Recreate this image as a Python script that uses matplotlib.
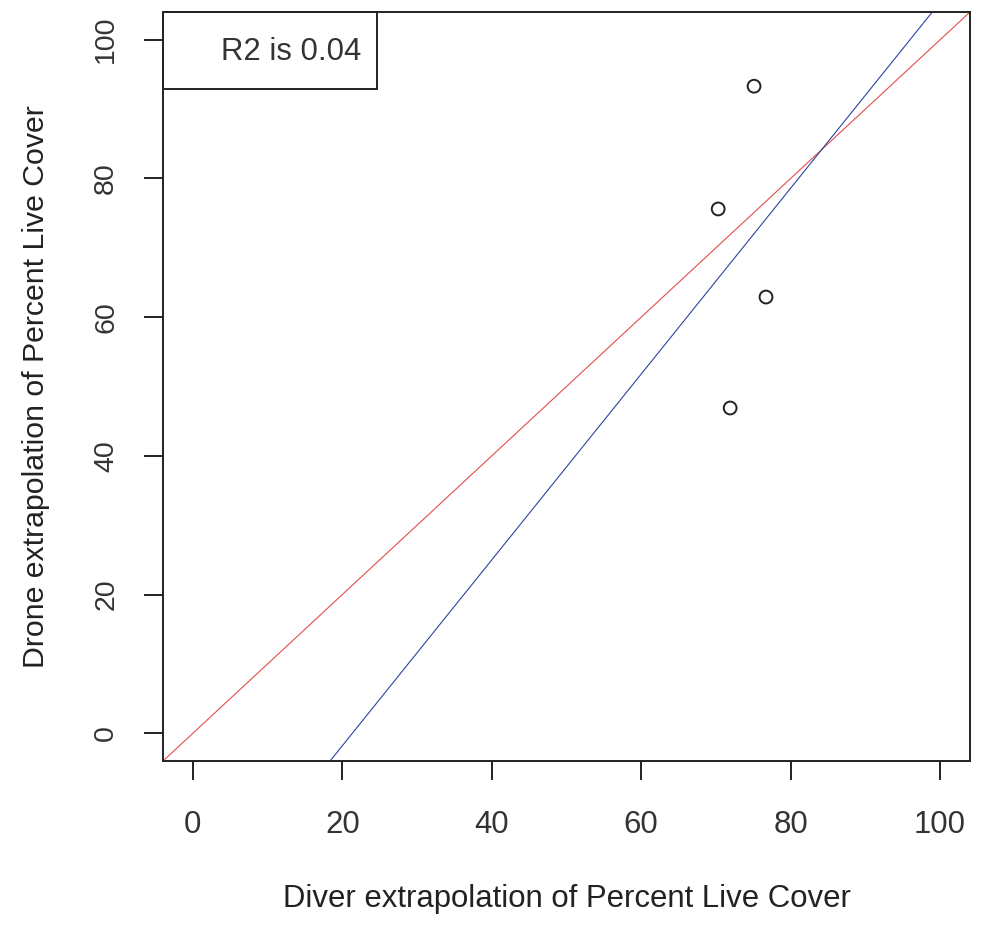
import matplotlib
matplotlib.use("Agg")
import matplotlib.pyplot as plt
from matplotlib.patches import Rectangle

plt.rcParams['font.family'] = ['Liberation Sans', 'DejaVu Sans']

# Data
diver = [75.1, 70.3, 76.7, 71.9]
drone = [93.3, 75.6, 62.9, 46.9]
ticks = [0, 20, 40, 60, 80, 100]
one_to_one = (0.0, 1.0)        # intercept, slope
fit_line = (-28.6, 1.34)       # intercept, slope
r2_text = "R2 is 0.04"

fig = plt.figure(figsize=(9.81, 9.31), dpi=100)
W, H = 981, 931
left, right, top, bottom = 163, 970, 12, 761
ax = fig.add_axes([left / W, 1 - bottom / H, (right - left) / W, (bottom - top) / H])

ax.set_xlim(-4, 104)
ax.set_ylim(-4, 104)

ax.axline((0, one_to_one[0]), slope=one_to_one[1], color='#e05048', lw=0.8)
ax.axline((0, fit_line[0]), slope=fit_line[1], color='#2c44a0', lw=0.8)

ax.scatter(diver, drone, s=85, facecolors='none', edgecolors='#222222', linewidths=1.4, zorder=3)

fs = 22.4
ax.set_xticks(ticks)
ax.set_yticks(ticks)
ax.set_xticklabels([str(t) for t in ticks], fontsize=fs, color='#333333')
ax.set_yticklabels([str(t) for t in ticks], fontsize=20.5, color='#333333', rotation=90, va='center')
ax.tick_params(axis='both', length=14, width=1.4, color='#222222')
ax.tick_params(axis='x', pad=21)
ax.tick_params(axis='y', pad=17.5)
for s in ax.spines.values():
    s.set_linewidth(1.4)
    s.set_color('#222222')

ax.set_xlabel("Diver extrapolation of Percent Live Cover", fontsize=fs, color='#222222', labelpad=32)
ax.set_ylabel("Drone extrapolation of Percent Live Cover", fontsize=21.8, color='#222222', labelpad=31)

ax.add_patch(Rectangle((0, 0.897), 0.265, 0.103, transform=ax.transAxes,
                       fill=False, edgecolor='#222222', lw=1.4, clip_on=False, zorder=4))
ax.text(0.159, 0.947, r2_text, transform=ax.transAxes, fontsize=fs, color='#333333',
        ha='center', va='center')

fig.savefig("out.png", dpi=100)
